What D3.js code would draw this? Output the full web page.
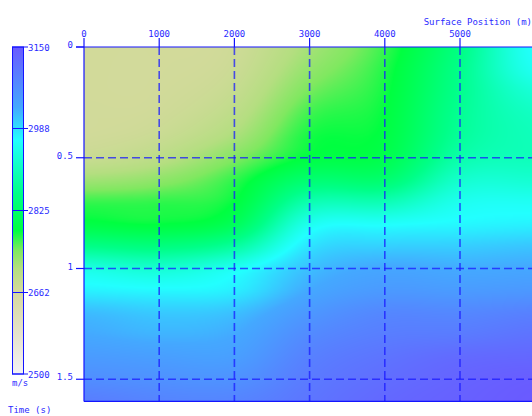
<!DOCTYPE html>
<html>
<head>
<meta charset="utf-8">
<script src="https://cdn.jsdelivr.net/npm/d3@7"></script>
<style>
  html, body { margin: 0; padding: 0; background: #fff; }
  svg { display: block; }
  text { font-family: "DejaVu Sans Mono", "Liberation Mono", monospace; font-size: 9px; fill: #2a2aff; }
</style>
</head>
<body>
<svg id="chart" width="532" height="416"></svg>
<script>
// Velocity model sampled on a coarse grid: surface position (m) x two-way time (s)
const positions = [0, 1000, 2000, 3000, 4000, 5000, 6000];
const times = [0, 0.1, 0.2, 0.3, 0.4, 0.5, 0.6, 0.7, 0.8, 0.9, 1.0, 1.1, 1.2, 1.3, 1.4, 1.5, 1.6];
// one row per time sample, one value (m/s) per surface position
const velocity = [
  [2668, 2668, 2674, 2720, 2768, 2855, 2965], // 0.0 s
  [2668, 2668, 2678, 2732, 2775, 2862, 2955], // 0.1 s
  [2668, 2669, 2686, 2748, 2780, 2865, 2930], // 0.2 s
  [2669, 2672, 2698, 2765, 2785, 2870, 2912], // 0.3 s
  [2670, 2680, 2715, 2778, 2790, 2875, 2905], // 0.4 s
  [2682, 2700, 2742, 2788, 2800, 2890, 2905], // 0.5 s
  [2722, 2735, 2770, 2835, 2835, 2920, 2925], // 0.6 s
  [2768, 2770, 2785, 2895, 2900, 2950, 2955], // 0.7 s
  [2792, 2785, 2812, 2950, 2962, 2970, 2975], // 0.8 s
  [2860, 2850, 2880, 2985, 3000, 3002, 3008], // 0.9 s
  [2940, 2925, 2955, 3012, 3032, 3028, 3032], // 1.0 s
  [2975, 2970, 2978, 3030, 3052, 3050, 3055], // 1.1 s
  [3015, 3005, 3012, 3055, 3080, 3080, 3090], // 1.2 s
  [3030, 3022, 3030, 3075, 3095, 3100, 3112], // 1.3 s
  [3050, 3045, 3045, 3090, 3110, 3125, 3130], // 1.4 s
  [3070, 3065, 3065, 3100, 3120, 3135, 3145], // 1.5 s
  [3095, 3085, 3085, 3108, 3128, 3140, 3150]  // 1.6 s
];

const positionTicks = [0, 1000, 2000, 3000, 4000, 5000];
const timeTicks = [0, 0.5, 1, 1.5];
const velocityTicks = [2500, 2662, 2825, 2988, 3150];

// colour palette stops (m/s -> colour)
const paletteValues = [2500, 2580, 2662, 2710, 2745, 2785, 2860, 2965, 3030, 3150];
const paletteColors = ["#f4f2f4", "#e6e2cc", "#d6d99e", "#b4de80", "#80e860", "#00ff40", "#00ff88", "#22ffff", "#44a8ff", "#6a5aff"];

const svg = d3.select("#chart");
const blue = "#1414ff";

const x = d3.scaleLinear().domain([0, 6000]).range([84, 84 + 6 * 75.2]);
const y = d3.scaleLinear().domain([0, 1.6]).range([47, 47 + 1.6 * 221.5]);
const color = d3.scaleLinear().domain(paletteValues).range(paletteColors)
  .interpolate(d3.interpolateRgb).clamp(true);

// Catmull-Rom interpolation along a sampled series
function cubic(vals, u) {
  const n = vals.length;
  let i = Math.floor(u);
  if (i < 0) i = 0;
  if (i > n - 2) i = n - 2;
  const f = u - i;
  const c = k => vals[Math.max(0, Math.min(n - 1, k))];
  const p0 = c(i - 1), p1 = c(i), p2 = c(i + 1), p3 = c(i + 2);
  return 0.5 * (2 * p1 + (-p0 + p2) * f + (2 * p0 - 5 * p1 + 4 * p2 - p3) * f * f +
    (-p0 + 3 * p1 - 3 * p2 + p3) * f * f * f);
}

// raster of the velocity field
const x0 = x(0), y0 = y(0);
const W = Math.ceil(x(6000) - x0), H = Math.ceil(y(1.6) - y0);
const canvas = document.createElement("canvas");
canvas.width = W; canvas.height = H;
const ctx = canvas.getContext("2d");
const img = ctx.createImageData(W, H);
const posStep = positions[1] - positions[0];
const timeStep = times[1] - times[0];
for (let px = 0; px < W; px++) {
  const u = (x.invert(x0 + px + 0.5) - positions[0]) / posStep;
  const column = velocity.map(row => cubic(row, u));
  for (let py = 0; py < H; py++) {
    const v = (y.invert(y0 + py + 0.5) - times[0]) / timeStep;
    const c = d3.rgb(color(cubic(column, v)));
    const k = (py * W + px) * 4;
    img.data[k] = c.r; img.data[k + 1] = c.g; img.data[k + 2] = c.b; img.data[k + 3] = 255;
  }
}
ctx.putImageData(img, 0, 0);
svg.append("image")
  .attr("x", x0).attr("y", y0).attr("width", W).attr("height", H)
  .attr("preserveAspectRatio", "none")
  .attr("href", canvas.toDataURL());

// dashed grid
const grid = svg.append("g").attr("stroke", "#1a1aff").attr("stroke-opacity", 0.75)
  .attr("stroke-width", 1.6).attr("stroke-dasharray", "8,4").attr("fill", "none");
grid.selectAll("line.v").data(positionTicks.filter(d => d > 0)).join("line")
  .attr("x1", d => x(d)).attr("x2", d => x(d)).attr("y1", y(0)).attr("y2", y(1.6));
grid.selectAll("line.h").data(timeTicks.filter(d => d > 0)).join("line")
  .attr("x1", x(0)).attr("x2", x(6000)).attr("y1", d => y(d)).attr("y2", d => y(d));

// frame
svg.append("line").attr("x1", x(0) - 8).attr("x2", 532).attr("y1", y(0)).attr("y2", y(0))
  .attr("stroke", blue).attr("stroke-width", 1.2);
svg.append("line").attr("x1", x(0)).attr("x2", x(0)).attr("y1", y(0)).attr("y2", y(1.6))
  .attr("stroke", blue).attr("stroke-width", 1.2);
svg.append("line").attr("x1", x(0)).attr("x2", 532).attr("y1", y(1.6)).attr("y2", y(1.6))
  .attr("stroke", blue).attr("stroke-width", 1.4);

// top axis: surface position
const xAxis = svg.append("g");
xAxis.selectAll("line").data(positionTicks).join("line")
  .attr("x1", d => x(d)).attr("x2", d => x(d)).attr("y1", y(0) - 9).attr("y2", y(0))
  .attr("stroke", blue).attr("stroke-width", 1.2);
xAxis.selectAll("text").data(positionTicks).join("text")
  .attr("x", d => x(d)).attr("y", y(0) - 10).attr("text-anchor", "middle").text(d => d);
svg.append("text").attr("x", 532).attr("y", 25).attr("text-anchor", "end").text("Surface Position (m)");

// left axis: time
const yAxis = svg.append("g");
yAxis.selectAll("line").data(timeTicks).join("line")
  .attr("x1", x(0) - 8).attr("x2", x(0)).attr("y1", d => y(d)).attr("y2", d => y(d))
  .attr("stroke", blue).attr("stroke-width", 1.2);
yAxis.selectAll("text").data(timeTicks).join("text")
  .attr("x", x(0) - 11).attr("y", d => y(d) + 1).attr("text-anchor", "end")
  .text(d => d3.format("~g")(d));
svg.append("text").attr("x", 8).attr("y", 413).text("Time (s)");

// colour bar
const cb = d3.scaleLinear().domain([2500, 3150]).range([374, 47]);
const defs = svg.append("defs");
const grad = defs.append("linearGradient").attr("id", "cbar")
  .attr("x1", 0).attr("y1", 1).attr("x2", 0).attr("y2", 0);
grad.selectAll("stop").data(paletteValues).join("stop")
  .attr("offset", d => (d - 2500) / 650).attr("stop-color", d => color(d));
svg.append("rect").attr("x", 12.5).attr("y", cb(3150)).attr("width", 11)
  .attr("height", cb(2500) - cb(3150)).attr("fill", "url(#cbar)")
  .attr("stroke", blue).attr("stroke-width", 1);
svg.selectAll("line.cbt").data(velocityTicks).join("line")
  .attr("x1", 12).attr("x2", 28).attr("y1", d => cb(d)).attr("y2", d => cb(d))
  .attr("stroke", blue).attr("stroke-width", 1);
svg.selectAll("text.cbt").data(velocityTicks).join("text")
  .attr("x", 28).attr("y", d => cb(d) + 3.5).text(d => d);
svg.append("text").attr("x", 12).attr("y", 386).text("m/s");
</script>
</body>
</html>
